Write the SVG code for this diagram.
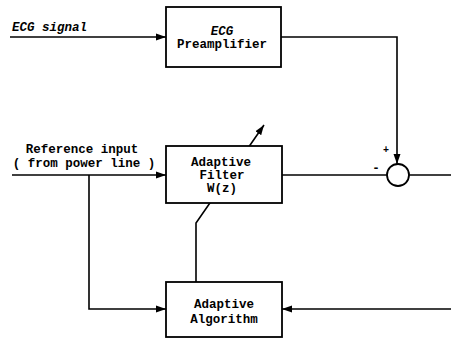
<svg xmlns="http://www.w3.org/2000/svg" width="451" height="339" viewBox="0 0 451 339">
<defs>
<marker id="ah" markerWidth="10" markerHeight="8" refX="10" refY="4" orient="auto" markerUnits="userSpaceOnUse">
<path d="M0,0.5 L10,4 L0,7.5 Z" fill="#000"/>
</marker>
<style>
.box{fill:#fff;stroke:#000;stroke-width:1.8}
.ln{fill:none;stroke:#000;stroke-width:1.6}
text{font-family:"Liberation Mono","DejaVu Sans Mono",monospace;font-size:12.5px;font-weight:bold;fill:#000}
.c{text-anchor:middle}
.i{font-style:italic}
</style>
</defs>
<rect width="451" height="339" fill="#fff"/>
<g id="connectors">
<line class="ln" x1="10" y1="37" x2="166" y2="37" marker-end="url(#ah)"/>
<polyline class="ln" points="281,37 397,37 397,164" marker-end="url(#ah)"/>
<line class="ln" x1="12" y1="175" x2="166" y2="175" marker-end="url(#ah)"/>
<polyline class="ln" points="89,175 89,309 166,309" marker-end="url(#ah)"/>
<line class="ln" x1="282" y1="175" x2="387" y2="175"/>
<line class="ln" x1="409" y1="175" x2="451" y2="175"/>
<line class="ln" x1="451" y1="309" x2="282" y2="309" marker-end="url(#ah)"/>
<polyline class="ln" points="196,282 196,223 264,125" marker-end="url(#ah)"/>
</g>
<g id="sum">
<circle cx="398" cy="175" r="11" fill="#fff" stroke="#000" stroke-width="1.8"/>
<text x="386" y="153" class="c" style="font-size:10px">+</text>
<text x="376" y="172" class="c">-</text>
</g>
<g id="preamp">
<rect class="box" x="166" y="7" width="115" height="60"/>
<text x="222" y="35" class="c i">ECG</text>
<text x="222" y="48" class="c">Preamplifier</text>
</g>
<g id="filter">
<rect class="box" x="166" y="146" width="116" height="57"/>
<text x="221" y="166" class="c">Adaptive</text>
<text x="222" y="179" class="c">Filter</text>
<text x="222" y="192" class="c">W(z)</text>
</g>
<g id="algorithm">
<rect class="box" x="166" y="282" width="116" height="55"/>
<text x="224" y="308" class="c">Adaptive</text>
<text x="224" y="323" class="c">Algorithm</text>
</g>
<g id="labels">
<text x="12" y="31" class="i">ECG signal</text>
<text x="82" y="153" class="c">Reference input</text>
<text x="84" y="167" class="c">( from power line )</text>
</g>
</svg>
